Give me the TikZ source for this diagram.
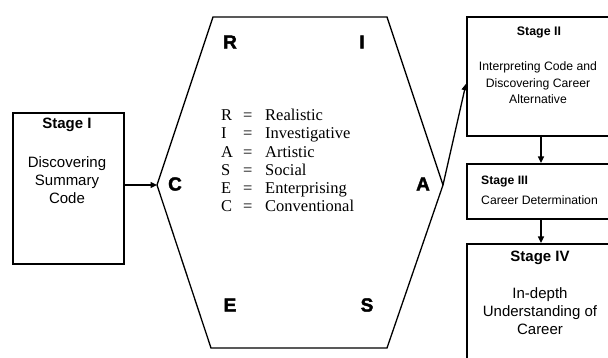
\documentclass[tikz,border=0pt]{standalone}
\usepackage{fontspec}
\setmainfont{Liberation Serif}
\setsansfont{Liberation Sans}
\newfontfamily\heavyfont[FakeBold=2]{Liberation Sans Bold}
\usetikzlibrary{arrows.meta}
\begin{document}
\begin{tikzpicture}[x=1pt,y=-1pt,
  stagebox/.style={draw,line width=1.6pt,rectangle,anchor=north west,inner sep=0pt},
  arr/.style={line width=1.3pt,-{Triangle[length=6.5pt,width=6pt]}},
  hexletter/.style={font=\heavyfont\fontsize{19}{20}\selectfont,inner sep=0pt},
  title/.style={font=\sffamily\bfseries,inner sep=0pt},
  body/.style={font=\sffamily,inner sep=0pt,align=center}]
\useasboundingbox (0,0) rectangle (608,358);
\clip (0,0) rectangle (608,358);
% boxes
\node[stagebox,minimum width=111pt,minimum height=151pt] (s1) at (12,112) {};
\node[stagebox,minimum width=148pt,minimum height=119pt] (s2) at (466,16) {};
\node[stagebox,minimum width=148pt,minimum height=55pt] (s3) at (466,163) {};
\node[stagebox,minimum width=148pt,minimum height=130pt] (s4) at (466,243) {};
% hexagon
\coordinate (hTL) at (213,17);
\coordinate (hTR) at (387,17);
\coordinate (hA) at (443,185);
\coordinate (hBR) at (387,348);
\coordinate (hBL) at (211,348);
\coordinate (hC) at (157,185);
\draw[line width=1.3pt,line join=miter] (hTL) -- (hTR) -- (hA) -- (hBR) -- (hBL) -- (hC) -- cycle;
% hexagon letters
\node[hexletter] (lR) at (230,42) {R};
\node[hexletter] (lI) at (362,42) {I};
\node[hexletter] (lE) at (230,305) {E};
\node[hexletter] (lS) at (367,305) {S};
\node[hexletter] (lC) at (175,184) {C};
\node[hexletter] (lA) at (423,184) {A};
% legend
\node[anchor=west,inner sep=0pt,font=\fontsize{16.5}{18.2}\selectfont] (legend) at (221,162.5) {%
\begin{tabular}{@{}p{22pt}@{}p{22pt}@{}l@{}}
R & = & Realistic\\
I & = & Investigative\\
A & = & Artistic\\
S & = & Social\\
E & = & Enterprising\\
C & = & Conventional
\end{tabular}};
% Stage I text
\node[title,font=\sffamily\bfseries\fontsize{15}{18}\selectfont] (t1) at (67,125) {Stage I};
\node[body,font=\sffamily\fontsize{15}{18}\selectfont] (b1) at (67,180) {Discovering\\Summary\\Code};
% Stage II text
\node[title,font=\sffamily\bfseries\fontsize{12.4}{15}\selectfont] (t2) at (539,32) {Stage II};
\node[body,font=\sffamily\fontsize{12.2}{16.5}\selectfont] (b2) at (538,83) {Interpreting Code and\\Discovering Career\\Alternative};
% Stage III text
\node[title,anchor=west,font=\sffamily\bfseries\fontsize{12.2}{15}\selectfont] (t3) at (481,182) {Stage III};
\node[body,anchor=west,font=\sffamily\fontsize{12.2}{15}\selectfont] (b3) at (481,200) {Career Determination};
% Stage IV text
\node[title,font=\sffamily\bfseries\fontsize{15}{18}\selectfont] (t4) at (540,258) {Stage IV};
\node[body,font=\sffamily\fontsize{15}{18}\selectfont] (b4) at (540,311) {In-depth\\Understanding of\\Career};
% connectors
\draw[arr] (s1.east |- hC) -- (hC);
\draw[arr] (hA) -- ([yshift=-7.5pt]s2.west);
\draw[arr] (541,135) coordinate (a1) -- (a1 |- s3.north);
\draw[arr] (s3.south -| a1) -- (a1 |- s4.north);
\end{tikzpicture}
\end{document}
